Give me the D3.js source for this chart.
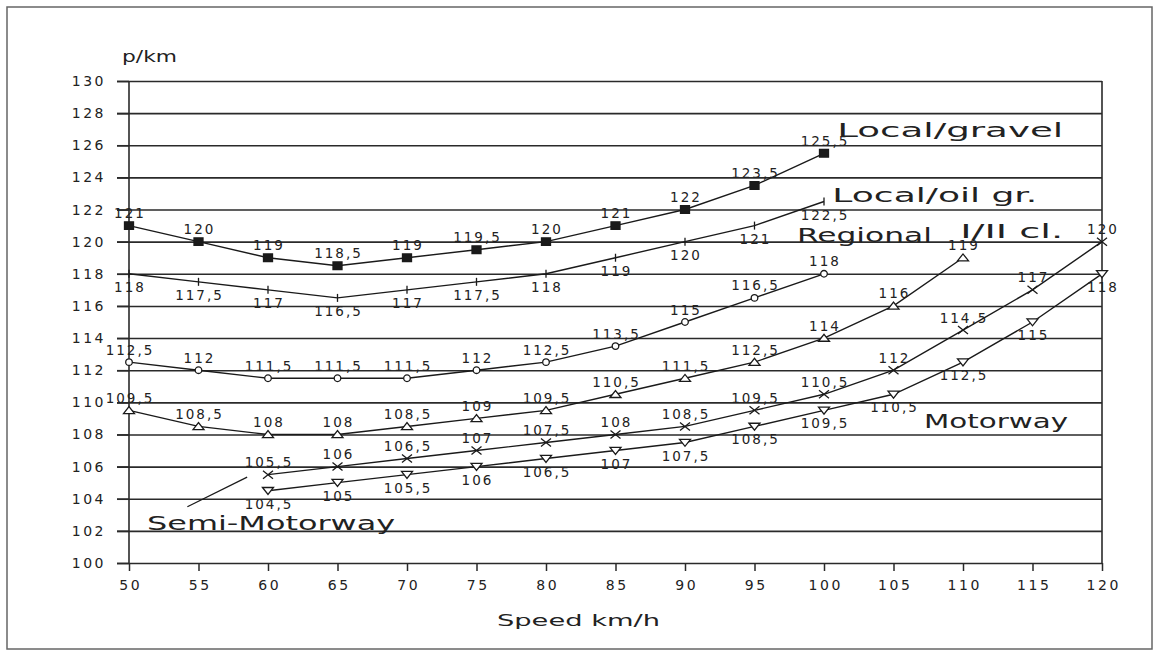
<!DOCTYPE html>
<html>
<head>
<meta charset="utf-8">
<script src="https://cdn.jsdelivr.net/npm/d3@7"></script>
<style>
  body { margin: 0; background: #fff; }
  text { font-family: "DejaVu Sans", sans-serif; fill: #222; }
</style>
</head>
<body>
<svg id="chart" width="1156" height="653"></svg>
<script>
// speeds (km/h) for the two groups of series
var speeds_50 = [50, 55, 60, 65, 70, 75, 80, 85, 90, 95, 100, 105, 110, 115, 120];
var speeds_60 = [60, 65, 70, 75, 80, 85, 90, 95, 100, 105, 110, 115, 120];

// costs p/km
var local_gravel = [121, 120, 119, 118.5, 119, 119.5, 120, 121, 122, 123.5, 125.5];
var local_oil = [118, 117.5, 117, 116.5, 117, 117.5, 118, 119, 120, 121, 122.5];
var regional_1 = [112.5, 112, 111.5, 111.5, 111.5, 112, 112.5, 113.5, 115, 116.5, 118];
var regional_2 = [109.5, 108.5, 108, 108, 108.5, 109, 109.5, 110.5, 111.5, 112.5, 114, 116, 119];
var semi_motorway = [105.5, 106, 106.5, 107, 107.5, 108, 108.5, 109.5, 110.5, 112, 114.5, 117, 120];
var motorway = [104.5, 105, 105.5, 106, 106.5, 107, 107.5, 108.5, 109.5, 110.5, 112.5, 115, 118];

var y_ticks = [100, 102, 104, 106, 108, 110, 112, 114, 116, 118, 120, 122, 124, 126, 128, 130];
var x_ticks = [50, 55, 60, 65, 70, 75, 80, 85, 90, 95, 100, 105, 110, 115, 120];

// series names, with where the curve labels sit (in data units)
var names = ['Local/gravel', 'Local/oil gr.', 'Regional', 'I/II cl.', 'Motorway', 'Semi-Motorway'];
var name_pos = [[100.95, 126.5], [100.6, 122.45], [98.05, 119.95], [109.8, 120.2], [107.2, 108.4], [51.3, 102.05]];
var name_len = [226, 205, 135, 103, 144, 248];
var pointer = [[54.2, 103.5], [58.5, 105.35]];

var series = [
  {values: local_gravel, start: speeds_50, marker: 'square', side: 'above'},
  {values: local_oil, start: speeds_50, marker: 'tick', side: 'below'},
  {values: regional_1, start: speeds_50, marker: 'circle', side: 'above'},
  {values: regional_2, start: speeds_50, marker: 'triangle', side: 'above'},
  {values: semi_motorway, start: speeds_60, marker: 'cross', side: 'above'},
  {values: motorway, start: speeds_60, marker: 'down', side: 'below'}
];

var svg = d3.select('#chart');

svg.append('rect')
  .attr('x', 7).attr('y', 7)
  .attr('width', 1145).attr('height', 642)
  .attr('fill', 'none')
  .attr('stroke', '#666')
  .attr('stroke-width', 1.5);

var x = d3.scaleLinear().domain([50, 120]).range([129, 1102]),
    y = d3.scaleLinear().domain([100, 130]).range([563, 81]);

// horizontal grid
var grid = svg.append('g')
  .attr('transform', 'translate(117,0)')
  .call(d3.axisRight(y).tickValues(y_ticks).tickSize(985).tickFormat(''));
grid.select('.domain').remove();
grid.selectAll('line').attr('stroke', '#2a2a2a').attr('stroke-width', 1.6);

// y labels
var y_axis = svg.append('g')
  .attr('transform', 'translate(129,0)')
  .call(d3.axisLeft(y).tickValues(y_ticks).tickSize(12).tickPadding(11));
y_axis.select('.domain').remove();
y_axis.selectAll('line').attr('stroke', '#2a2a2a').attr('stroke-width', 1.6);

// x axis
var x_axis = svg.append('g')
  .attr('transform', 'translate(0,563)')
  .call(d3.axisBottom(x).tickValues(x_ticks).tickSize(8).tickSizeOuter(0).tickPadding(9));
x_axis.select('.domain').remove();
x_axis.selectAll('line').attr('stroke', '#2a2a2a').attr('stroke-width', 1.5);

[y_axis, x_axis].forEach(function(a) {
  a.attr('font-family', null).attr('font-size', null);
  a.selectAll('text')
    .attr('fill', '#222')
    .style('font-size', '14px')
    .style('letter-spacing', '2.5px');
});
x_axis.selectAll('text').attr('dx', 1.2);

// frame verticals
[50, 120].forEach(function(v) {
  svg.append('line')
    .attr('x1', x(v)).attr('x2', x(v))
    .attr('y1', y(130)).attr('y2', y(100))
    .attr('stroke', '#2a2a2a')
    .attr('stroke-width', 1.6);
});

svg.append('text')
  .attr('x', 122).attr('y', 62)
  .attr('textLength', 55)
  .attr('lengthAdjust', 'spacingAndGlyphs')
  .style('font-size', '15px')
  .text('p/km');

svg.append('text')
  .attr('x', 497).attr('y', 626)
  .attr('textLength', 163)
  .attr('lengthAdjust', 'spacingAndGlyphs')
  .style('font-size', '16px')
  .text('Speed km/h');

var marker_paths = {
  square: 'M-4.5,-3.8H4.5V3.8H-4.5Z',
  tick: 'M0,-4V4',
  circle: 'M-3.3,0A3.3,3.3 0 1,0 3.3,0A3.3,3.3 0 1,0 -3.3,0',
  triangle: 'M-5.5,3.2L0,-3.8L5.5,3.2Z',
  cross: 'M-5,-4L5,4M-5,4L5,-4',
  down: 'M-5.5,-3.2L0,3.8L5.5,-3.2Z'
};

var line = d3.line()
  .x(function(d) { return x(d[0]); })
  .y(function(d) { return y(d[1]); });

series.forEach(function(s) {
  var pts = s.values.map(function(v, i) { return [s.start[i], v]; });
  var g = svg.append('g').attr('class', 'series ' + s.marker);

  g.append('path')
    .attr('d', line(pts))
    .attr('fill', 'none')
    .attr('stroke', '#1a1a1a')
    .attr('stroke-width', 1.4);

  g.selectAll('path.mk')
    .data(pts)
    .enter()
    .append('path')
    .attr('class', 'mk')
    .attr('transform', function(d) { return 'translate(' + x(d[0]) + ',' + y(d[1]) + ')'; })
    .attr('d', marker_paths[s.marker])
    .attr('fill', s.marker == 'square' ? '#1a1a1a' : (s.marker == 'cross' || s.marker == 'tick') ? 'none' : '#fff')
    .attr('stroke', '#1a1a1a')
    .attr('stroke-width', 1.3);

  g.selectAll('text')
    .data(pts)
    .enter()
    .append('text')
    .attr('x', function(d) { return x(d[0]) + 1; })
    .attr('y', function(d) { return y(d[1]) + (s.side == 'above' ? -7.5 : 18); })
    .attr('text-anchor', 'middle')
    .style('font-size', '13.5px')
    .style('letter-spacing', '2px')
    .text(function(d) { return String(d[1]).replace('.', ','); });
});

// curve names
svg.selectAll('text.name')
  .data(names)
  .enter()
  .append('text')
  .attr('class', 'name')
  .attr('x', function(d, i) { return x(name_pos[i][0]); })
  .attr('y', function(d, i) { return y(name_pos[i][1]); })
  .attr('textLength', function(d, i) { return name_len[i]; })
  .attr('lengthAdjust', 'spacingAndGlyphs')
  .style('font-size', '20px')
  .text(function(d) { return d; });

svg.append('line')
  .attr('x1', x(pointer[0][0])).attr('y1', y(pointer[0][1]))
  .attr('x2', x(pointer[1][0])).attr('y2', y(pointer[1][1]))
  .attr('stroke', '#1a1a1a')
  .attr('stroke-width', 1.3);
</script>
</body>
</html>
